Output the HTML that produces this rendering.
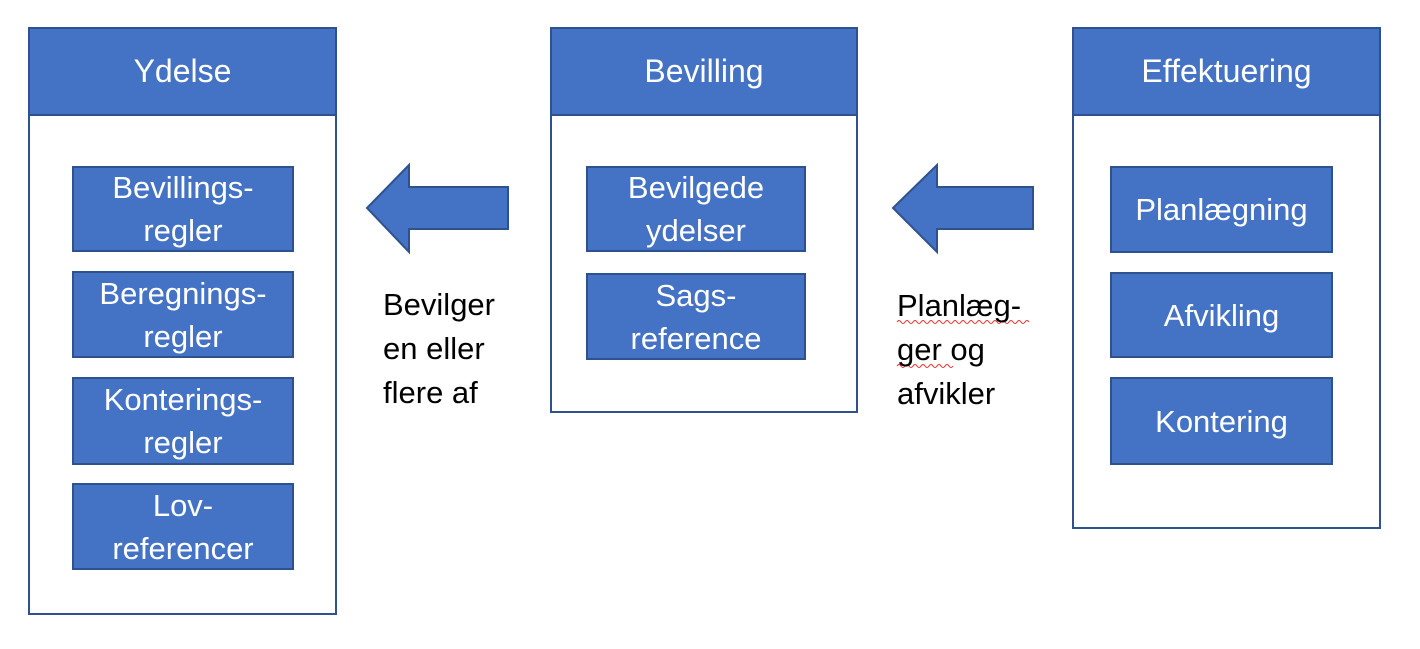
<!DOCTYPE html>
<html><head><meta charset="utf-8"><style>
body{margin:0;width:1420px;height:649px;background:#fff;position:relative;overflow:hidden;font-family:"Liberation Sans",sans-serif}
.o{position:absolute;border:2px solid #2F528F;background:#fff;box-sizing:border-box}
.h{position:absolute;left:0;right:0;top:0;height:85px;background:#4472C4;border-bottom:2px solid #2F528F;color:#fff;font-size:32px;display:flex;align-items:center;justify-content:center}
.b{position:absolute;background:#4472C4;border:2px solid #2F528F;box-sizing:border-box;color:#fff;font-size:31px;line-height:43px;display:flex;align-items:center;justify-content:center;text-align:center;white-space:nowrap}
.t{position:absolute;font-size:31px;line-height:44px;color:#000}
</style></head><body>
<div class="o" style="left:28px;top:27px;width:309px;height:588px"><div class="h">Ydelse</div></div>
<div class="b" style="left:72px;top:166px;width:222px;height:86px">Bevillings-<br>regler</div>
<div class="b" style="left:72px;top:271px;width:222px;height:87px">Beregnings-<br>regler</div>
<div class="b" style="left:72px;top:377px;width:222px;height:88px">Konterings-<br>regler</div>
<div class="b" style="left:72px;top:483px;width:222px;height:87px">Lov-<br>referencer</div>

<div class="o" style="left:550px;top:27px;width:308px;height:386px"><div class="h">Bevilling</div></div>
<div class="b" style="left:586px;top:166px;width:220px;height:86px">Bevilgede<br>ydelser</div>
<div class="b" style="left:586px;top:273px;width:220px;height:87px">Sags-<br>reference</div>

<div class="o" style="left:1072px;top:27px;width:309px;height:502px"><div class="h">Effektuering</div></div>
<div class="b" style="left:1110px;top:166px;width:223px;height:87px">Planlægning</div>
<div class="b" style="left:1110px;top:272px;width:223px;height:86px">Afvikling</div>
<div class="b" style="left:1110px;top:377px;width:223px;height:88px">Kontering</div>

<svg style="position:absolute;left:0;top:0" width="1420" height="649">
<polygon points="367,208 409,165 409,187 508,187 508,229 409,229 409,252" fill="#4472C4" stroke="#2F528F" stroke-width="2"/>
<polygon points="893,208 937,165 937,187 1033,187 1033,229 937,229 937,252" fill="#4472C4" stroke="#2F528F" stroke-width="2"/>
<path d="M897 322 q2 -3 4 0 t4 0 t4 0 t4 0 t4 0 t4 0 t4 0 t4 0 t4 0 t4 0 t4 0 t4 0 t4 0 t4 0 t4 0 t4 0 t4 0 t4 0 t4 0 t4 0 t4 0 t4 0 t4 0 t4 0 t4 0 t4 0 t4 0 t4 0 t4 0 t4 0 t4 0 t4 0 t4 0" stroke="#e03030" fill="none" stroke-width="1"/>
<path d="M897 366 q2 -3 4 0 t4 0 t4 0 t4 0 t4 0 t4 0 t4 0 t4 0 t4 0 t4 0 t4 0 t4 0 t4 0 t4 0" stroke="#e03030" fill="none" stroke-width="1"/>
</svg>
<div class="t" style="left:383px;top:283px">Bevilger<br>en eller<br>flere af</div>
<div class="t" style="left:897px;top:284px">Planlæg-<br>ger og<br>afvikler</div>
</body></html>
